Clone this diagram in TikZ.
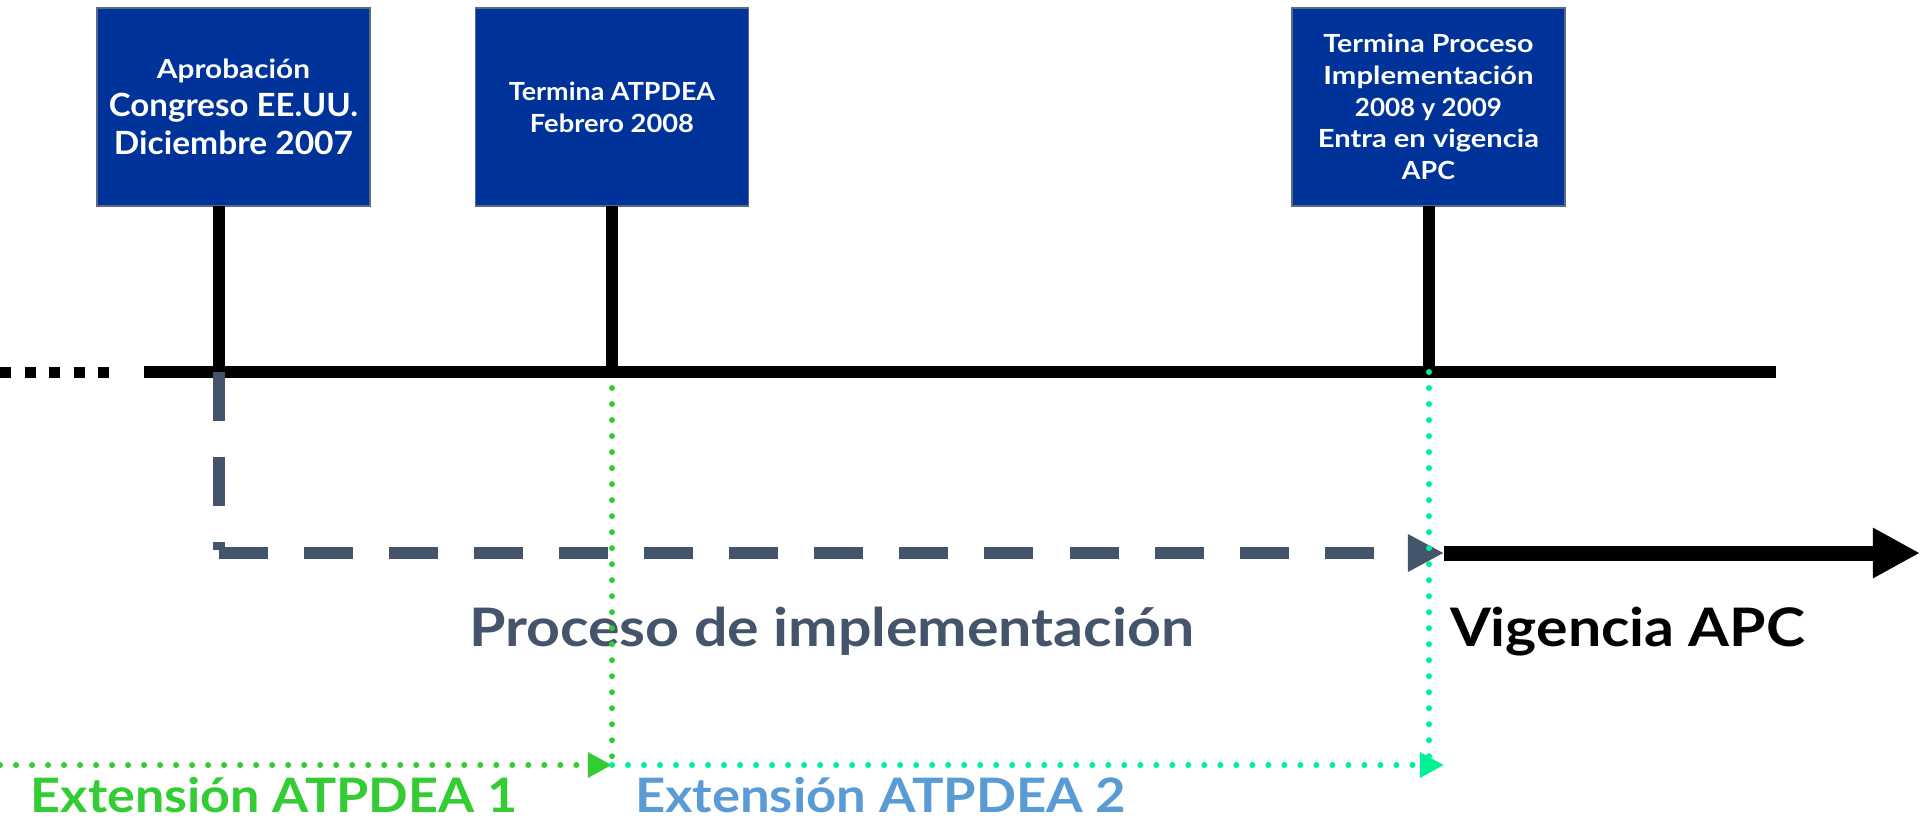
\documentclass[tikz,border=0pt]{standalone}
\usepackage{graphicx}
\usepackage{fontspec}
\setmainfont{Lato}
\usetikzlibrary{arrows.meta}
\definecolor{boxblue}{HTML}{003399}
\definecolor{boxedge}{HTML}{5A6A85}
\definecolor{slate}{HTML}{44546A}
\definecolor{extgreen}{HTML}{33CC33}
\definecolor{extmint}{HTML}{00F096}
\definecolor{extblue}{HTML}{5B9BD5}
\newcommand\fw[2]{\resizebox{#1}{\height}{#2}}
\newcommand\bigline{\fontsize{9.1}{10.8pt}\selectfont}
\tikzset{
  evbox/.style={draw=boxedge, line width=0.4pt, fill=boxblue, text=white,
    minimum width=2.73cm, minimum height=1.98cm, inner sep=0pt, outer sep=0pt,
    align=center},
  tick/.style={line width=0.12cm},
  axis/.style={line width=0.12cm},
  axisdots/.style={line width=0.11cm, dash pattern=on 0.11cm off 0.135cm},
  procstem/.style={draw=slate, line width=0.12cm, dash pattern=on 0.49cm off 0.36cm},
  procline/.style={draw=slate, line width=0.12cm, dash pattern=on 0.49cm off 0.36cm,
    -{Triangle[length=0.36cm, width=0.35cm]}},
  apcline/.style={line width=0.15cm, -{Triangle[length=0.47cm, width=0.47cm]}},
  dots/.style={line width=0.06cm, line cap=round, dash pattern=on 0pt off 0.16cm},
  dottip/.style={-{Triangle[length=0.24cm, width=0.24cm]}},
  bigtext/.style={anchor=base west, inner sep=0pt, outer sep=0pt,
    font=\bfseries\fontsize{15.1}{18}\selectfont},
  exttext/.style={anchor=base west, inner sep=0pt, outer sep=0pt,
    font=\bfseries\fontsize{13.5}{16}\selectfont},
}
\begin{document}
\begin{tikzpicture}[x=0.01cm, y=-0.01cm]
\useasboundingbox (0,0) rectangle (1920,817);

% event boxes
\node[evbox, font=\bfseries\fontsize{7.5}{10.8pt}\selectfont] (b1) at (233.5,107)
  {\fw{1.53cm}{Aprobación}\\
   \bigline\fw{2.49cm}{Congreso EE.UU.}\\
   \bigline\fw{2.39cm}{Diciembre 2007}};
\node[evbox, font=\bfseries\fontsize{7.1}{9.1pt}\selectfont] (b2) at (612,107)
  {\fw{2.06cm}{Termina ATPDEA}\\ \fw{1.64cm}{Febrero 2008}};
\node[evbox, font=\bfseries\fontsize{7.1}{9.03pt}\selectfont] (b3) at (1428.5,107)
  {\fw{2.10cm}{Termina Proceso}\\ \fw{2.10cm}{Implementación}\\ \fw{1.47cm}{2008 y 2009}\\
   \fw{2.21cm}{Entra en vigencia}\\ \fw{0.53cm}{APC}};

% timeline coordinates
\coordinate (d0) at (0,372);
\coordinate (d1) at (109,372);
\coordinate (a0) at (144,372);
\coordinate (a1) at (1776,372);
\coordinate (t1) at (219,372);
\coordinate (t2) at (612,372);
\coordinate (t3) at (1429,372);
\coordinate (pv) at (219,550);
\coordinate (pc) at (219,553);
\coordinate (pe) at (1444,553);
\coordinate (ve) at (1920,553);
\coordinate (g0) at (0,765);
\coordinate (g1) at (612,765);
\coordinate (m1) at (1444,765);
\coordinate (m2) at (1429,765);

% texts
\node[bigtext, text=slate] (proc) at (469,646) {\fw{7.25cm}{Proceso de implementación}};
\node[bigtext, text=black] (vig) at (1450,646) {\fw{3.55cm}{Vigencia APC}};
\node[exttext, text=extgreen] (ext1) at (31,812) {\fw{4.86cm}{Extensión ATPDEA 1}};
\node[exttext, text=extblue] (ext2) at (635,812) {\fw{4.91cm}{Extensión ATPDEA 2}};

% green vertical (under axis)
\draw[dots, extgreen] (t2) -- (g1);

% ticks and axis
\draw[tick] (t1 |- b1.south) -- (t1);
\draw[tick] (b2.south) -- (t2);
\draw[tick] (t3 |- b3.south) -- (t3);
\draw[axis] (a0) -- (a1);
\draw[axisdots] (d0) -- (d1);

% implementation process and validity
\draw[procstem] (t1) -- (pv);
\draw[procline] (pc) -- (pe);
\draw[apcline] (pe) -- (ve);

% extension lines
\draw[dots, extgreen, dottip] (g0) -- (g1);
\draw[dots, extmint] (t3) -- (m2);
\draw[dots, extmint, dottip] (g1) -- (m1);
\end{tikzpicture}
\end{document}
